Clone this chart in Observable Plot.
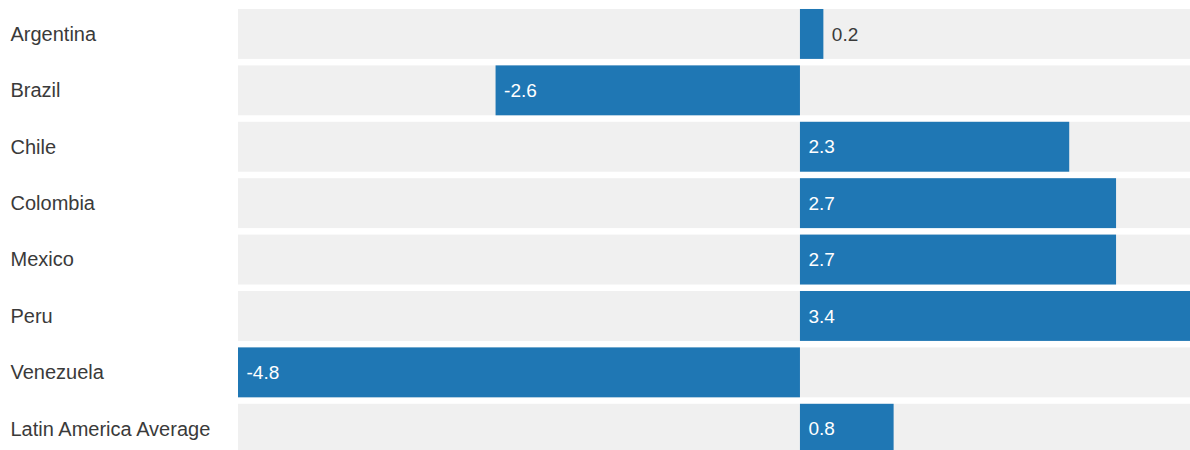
<!DOCTYPE html>
<html>
<head>
<meta charset="utf-8">
<script src="https://cdn.jsdelivr.net/npm/d3@7"></script>
<script src="https://cdn.jsdelivr.net/npm/@observablehq/plot@0.6"></script>
<style>
  html, body { margin: 0; padding: 0; background: #fff; }
  #chart svg { display: block; overflow: hidden; }
</style>
</head>
<body>
<div id="chart"></div>
<script>
const countries = ["Argentina", "Brazil", "Chile", "Colombia", "Mexico", "Peru", "Venezuela", "Latin America Average"];
const values = [0.2, -2.6, 2.3, 2.7, 2.7, 3.4, -4.8, 0.8];

const xMin = -4.8, xMax = 3.4;
const data = countries.map((c, i) => ({country: c, value: values[i]}));
const isOutside = d => d.value >= 0 && d.value < 0.5;

const chart = Plot.plot({
  width: 1190,
  height: 450,
  marginLeft: 0, marginRight: 0, marginTop: 0, marginBottom: 0,
  style: {fontFamily: "'Helvetica Neue', Helvetica, 'Liberation Sans', Arial, sans-serif", background: "#fff"},
  x: {domain: [xMin, xMax], range: [238, 1198], axis: null},
  y: {domain: countries, range: [2.5, 460.2], padding: 0.115, round: false, axis: null},
  marks: [
    Plot.barX(data, {y: "country", x1: () => xMin, x2: () => xMax + 0.2, fill: "#f0f0f0"}),
    Plot.barX(data, {y: "country", x1: () => 0, x2: "value", fill: "#1f77b4"}),
    Plot.text(data, {y: "country", text: "country", frameAnchor: "left", dx: 10, textAnchor: "start", fontSize: 20, fill: "#3a3a3a"}),
    Plot.text(data, {
      y: "country",
      x: d => (d.value < 0 || isOutside(d)) ? d.value : 0,
      text: d => d.value.toFixed(1),
      dx: 8, textAnchor: "start", fontSize: 19,
      fill: d => isOutside(d) ? "#3a3a3a" : "#fff"
    })
  ]
});
document.getElementById("chart").append(chart);
</script>
</body>
</html>
